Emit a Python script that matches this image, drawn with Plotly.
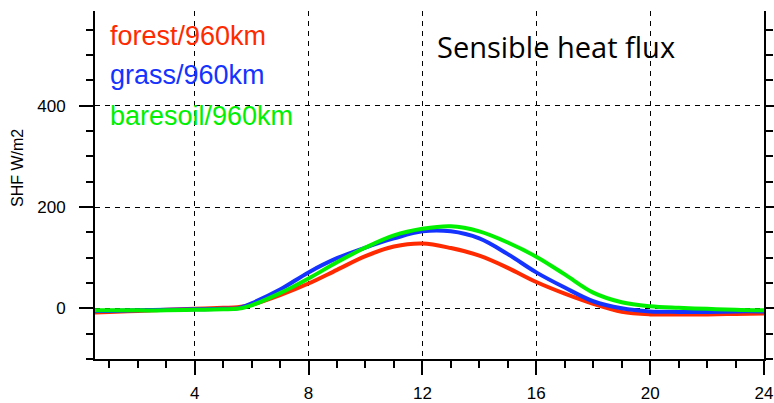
import plotly.graph_objects as go

# Local time (hours) and sensible heat flux (W/m2) for each surface type
hours = [0.5, 1, 2, 3, 4, 5, 5.5, 6, 7, 8, 9, 10, 11, 12, 13, 14, 15, 16, 17, 18, 19, 20, 21, 22, 23, 24]
forest = [-8, -7, -5, -3, -1, 1, 2, 7, 26, 49, 76, 103, 122, 128, 119, 104, 80, 52, 29, 9, -7, -12, -12, -12, -11, -10]
grass = [-5, -5, -4, -3, -2, -1, 0, 10, 37, 71, 99, 120, 138, 152, 152, 138, 107, 71, 41, 14, 0, -6, -7, -7, -6, -6]
baresoil = [-4, -4, -4, -4, -3, -2, -1, 6, 30, 59, 91, 120, 144, 157, 162, 152, 130, 102, 67, 31, 12, 4, 1, -1, -3, -4]

series_names = ["forest/960km", "grass/960km", "baresoil/960km"]
series_colors = ["#ff2a00", "#1433ff", "#00f000"]
series_values = [forest, grass, baresoil]

x_ticks = [4, 8, 12, 16, 20, 24]
y_ticks = [0, 200, 400]

fig = go.Figure()
for name, color, vals in zip(series_names, series_colors, series_values):
    fig.add_trace(go.Scatter(
        x=hours, y=vals, mode="lines", name=name,
        line=dict(color=color, width=4, shape="spline", smoothing=1.0),
        showlegend=False,
    ))

tick_font = dict(family="Liberation Sans, Arial, sans-serif", size=17, color="black")

fig.update_layout(
    width=774, height=403,
    margin=dict(l=95, r=10, t=11, b=44),
    paper_bgcolor="white", plot_bgcolor="white",
    xaxis=dict(
        range=[0.5, 24], tickvals=x_ticks, ticktext=[str(v) for v in x_ticks],
        automargin=False, ticklabeloverflow="allow",
        showline=True, linecolor="black", linewidth=2, mirror=False,
        ticks="outside", ticklen=14, tickwidth=2, tickcolor="black",
        ticklabelstandoff=4,
        showgrid=True, gridcolor="black", gridwidth=1, griddash="5px,5px",
        zeroline=False, tickfont=tick_font,
        minor=dict(dtick=1, tick0=0, ticks="outside", ticklen=7, tickwidth=1.5,
                   tickcolor="black", showgrid=False),
    ),
    yaxis=dict(
        range=[-100, 587], tickvals=y_ticks, ticktext=[str(v) for v in y_ticks],
        automargin=False,
        showline=True, linecolor="black", linewidth=2, mirror="ticks",
        ticks="outside", ticklen=14, tickwidth=2, tickcolor="black",
        ticklabelstandoff=10,
        showgrid=True, gridcolor="black", gridwidth=1, griddash="5px,5px",
        zeroline=False, tickfont=tick_font,
        minor=dict(dtick=50, tick0=0, ticks="outside", ticklen=7, tickwidth=1.5,
                   tickcolor="black", showgrid=False),
    ),
)

# Series labels in the upper-left corner
label_y = [36, 75, 116]
for name, color, py in zip(series_names, series_colors, label_y):
    fig.add_annotation(
        text=name, xref="paper", yref="paper",
        x=(108 - 95) / 669, y=1 - (py - 11) / 348,
        xanchor="left", yanchor="middle", showarrow=False,
        font=dict(family="Liberation Sans, Arial, sans-serif", size=27, color=color),
    )

# Panel title
fig.add_annotation(
    text="Sensible heat flux", xref="paper", yref="paper",
    x=(556 - 95) / 669, y=1 - (47 - 11) / 348,
    xanchor="center", yanchor="middle", showarrow=False,
    font=dict(family="Open Sans, sans-serif", size=29, color="black"),
)

# Y-axis title
fig.add_annotation(
    text="SHF W/m2", xref="paper", yref="paper",
    x=-(95 - 18) / 669, y=1 - (168 - 11) / 348,
    xanchor="center", yanchor="middle", showarrow=False, textangle=-90,
    font=dict(family="Liberation Sans, Arial, sans-serif", size=16, color="black"),
)

fig.write_html("out.html")
